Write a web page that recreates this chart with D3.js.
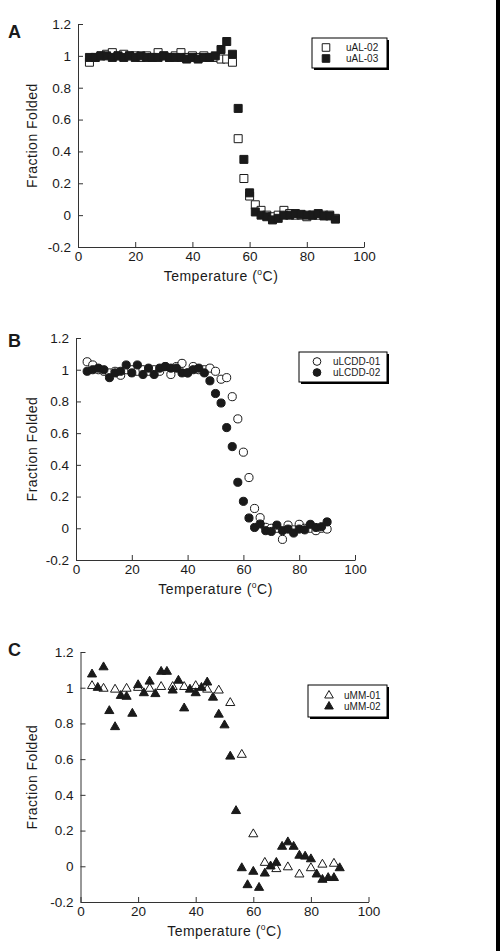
<!DOCTYPE html>
<html><head><meta charset="utf-8">
<script src="https://cdn.jsdelivr.net/npm/d3@7"></script>
<style>html,body{margin:0;padding:0;background:#fff;}svg{display:block;}</style>
</head><body>
<svg id="chart" width="502" height="951"></svg>
<script>
// ---------- DATA ----------
const xTicks = [0, 20, 40, 60, 80, 100];
const yTicks = [-0.2, 0, 0.2, 0.4, 0.6, 0.8, 1, 1.2];
const yTickLabels = ["-0.2", "0", "0.2", "0.4", "0.6", "0.8", "1", "1.2"];

const tempsA = [4,6,8,10,12,14,16,18,20,22,24,26,28,30,32,34,36,38,40,42,44,46,48,50,52,54,56,58,60,62,64,66,68,70,72,74,76,78,80,82,84,86,88,90];
const uAL02 = [0.96,0.99,1.0,1.01,1.02,1.0,1.01,1.0,1.0,0.99,1.0,0.99,1.02,1.0,0.99,1.0,1.02,0.99,1.0,0.99,1.0,0.99,0.99,0.98,0.98,0.96,0.48,0.23,0.12,0.065,0.03,0.0,-0.01,0.0,0.03,0.01,0.0,0.0,-0.01,0.0,0.0,0.0,0.0,-0.02];
const uAL03 = [0.99,0.99,1.0,1.0,0.99,1.0,0.99,1.0,0.99,1.0,0.99,0.99,0.99,1.0,0.99,0.99,0.99,0.98,0.99,0.98,0.99,0.99,1.0,1.04,1.09,1.01,0.67,0.35,0.14,0.02,0.0,-0.01,-0.03,-0.02,0.0,0.0,0.01,0.005,0.0,0.0,0.01,-0.005,-0.005,-0.025];

const tempsB = [4,6,8,10,12,14,16,18,20,22,24,26,28,30,32,34,36,38,40,42,44,46,48,50,52,54,56,58,60,62,64,66,68,70,72,74,76,78,80,82,84,86,88,90];
const uLCDD01 = [1.05,1.03,1.0,0.99,0.98,0.99,0.965,1.0,1.0,0.99,1.0,0.99,1.0,0.99,1.02,0.97,1.02,1.04,0.98,1.02,1.0,1.0,1.01,0.99,0.94,0.95,0.83,0.69,0.48,0.32,0.125,0.067,0.006,0.0,0.0,-0.07,0.02,-0.01,0.025,0.0,0.0,-0.015,0.0,-0.005];
const uLCDD02 = [0.99,1.0,1.01,1.0,0.95,0.98,0.99,1.03,0.98,1.03,0.97,1.01,0.97,1.01,1.02,1.01,1.01,0.98,0.98,1.0,1.01,0.98,0.93,0.85,0.79,0.635,0.515,0.29,0.17,0.065,0.005,0.027,-0.015,-0.02,0.02,-0.015,-0.005,-0.03,-0.005,-0.01,0.025,0.005,0.01,0.04];

const tempsC01 = [4,8,12,16,20,24,28,32,36,40,44,48,52,56,60,64,68,72,76,80,84,88];
const uMM01 = [1.01,0.995,0.99,0.995,1.0,0.995,1.005,1.005,1.005,1.01,0.99,0.985,0.915,0.625,0.18,0.02,-0.015,-0.005,-0.045,-0.01,0.01,0.015];
const tempsC02 = [4,6,8,10,12,14,16,18,20,22,24,26,28,30,32,34,36,38,40,42,44,46,48,50,52,54,56,58,60,62,64,66,68,70,72,74,76,78,80,82,84,86,88,90];
const uMM02 = [1.075,1.0,1.115,0.87,0.78,0.955,0.95,0.855,1.015,0.97,1.035,0.965,1.09,1.09,0.985,1.04,0.885,0.99,0.97,1.0,1.03,0.945,0.85,0.79,0.615,0.31,-0.01,-0.105,-0.03,-0.12,-0.04,0.0,0.02,0.11,0.135,0.11,0.06,0.055,0.04,-0.045,-0.075,-0.065,-0.065,-0.01];

// ---------- DRAWING ----------
const svg = d3.select("#chart");
const FONT = "'Liberation Sans', Arial, sans-serif";
const INK = "#1a1a1a";

// right-edge black bar
svg.append("rect").attr("x", 496).attr("y", 0).attr("width", 4).attr("height", 951).attr("fill", "#000");

const panels = [
  { letter: "A", ly: 38, x0: 78, x1: 364, yT: 24, yB: 247, shape: "square",
    series: [{name: "uAL-02", t: tempsA, v: uAL02, open: true}, {name: "uAL-03", t: tempsA, v: uAL03, open: false}],
    leg: {x: 312, y: 38, w: 75, h: 30, mx: 326, tx: 346} },
  { letter: "B", ly: 347, x0: 76, x1: 355, yT: 338, yB: 560, shape: "circle",
    series: [{name: "uLCDD-01", t: tempsB, v: uLCDD01, open: true}, {name: "uLCDD-02", t: tempsB, v: uLCDD02, open: false}],
    leg: {x: 299, y: 352, w: 88, h: 30, mx: 317, tx: 333} },
  { letter: "C", ly: 656, x0: 80.5, x1: 368.5, yT: 652, yB: 902, shape: "triangle",
    series: [{name: "uMM-01", t: tempsC01, v: uMM01, open: true}, {name: "uMM-02", t: tempsC02, v: uMM02, open: false}],
    leg: {x: 308, y: 685, w: 79, h: 32, mx: 329, tx: 344} }
];

function symbolPath(shape, size) {
  const type = shape === "square" ? d3.symbolSquare : shape === "circle" ? d3.symbolCircle : d3.symbolTriangle;
  return d3.symbol().type(type).size(size)();
}
const symSize = {square: 64, circle: 52, triangle: 36};

panels.forEach(p => {
  const g = svg.append("g");
  const x = d3.scaleLinear().domain([0, 100]).range([p.x0, p.x1]);
  const y = d3.scaleLinear().domain([-0.2, 1.2]).range([p.yB, p.yT]);

  // panel letter
  g.append("text").attr("x", 8).attr("y", p.ly).text(p.letter)
    .attr("font-family", FONT).attr("font-weight", "bold").attr("font-size", 18).attr("fill", INK);

  // axes
  const xAxis = d3.axisBottom(x).tickValues(xTicks).tickSizeInner(-5).tickSizeOuter(0).tickPadding(4).tickFormat(d3.format("d"));
  const yAxis = d3.axisLeft(y).tickValues(yTicks).tickSizeInner(-5).tickSizeOuter(0).tickPadding(7)
    .tickFormat(d => yTickLabels[yTicks.indexOf(d)]);

  const gx = g.append("g").attr("transform", `translate(0,${p.yB})`).call(xAxis);
  const gy = g.append("g").attr("transform", `translate(${p.x0},0)`).call(yAxis);
  [gx, gy].forEach(a => {
    a.selectAll("path,line").attr("stroke", "#333").attr("stroke-width", 1);
    a.selectAll("text").attr("font-family", FONT).attr("font-size", 13.5).attr("fill", INK);
  });

  // axis titles
  const xt = g.append("text").attr("x", (p.x0 + p.x1) / 2).attr("y", p.yB + 34)
    .attr("text-anchor", "middle").attr("font-family", FONT).attr("font-size", 14)
    .attr("letter-spacing", 0.5).attr("fill", INK);
  xt.append("tspan").text("Temperature (");
  xt.append("tspan").text("o").attr("font-size", 8.5).attr("dy", -6);
  xt.append("tspan").text("C)").attr("dy", 6);

  g.append("text").attr("transform", `translate(37,${(p.yT + p.yB) / 2}) rotate(-90)`)
    .attr("text-anchor", "middle").attr("font-family", FONT).attr("font-size", 14)
    .attr("letter-spacing", 0.5).attr("fill", INK)
    .text("Fraction Folded");

  // points
  const sz = symSize[p.shape];
  p.series.forEach(s => {
    const pts = s.t.map((t, i) => ({t, v: s.v[i]}));
    g.append("g").selectAll("path").data(pts).join("path")
      .attr("d", symbolPath(p.shape, sz))
      .attr("transform", d => `translate(${x(d.t)},${y(d.v)})`)
      .attr("fill", s.open ? "#fff" : INK)
      .attr("stroke", INK).attr("stroke-width", 1);
  });

  // legend
  const L = p.leg;
  g.append("rect").attr("x", L.x + 2).attr("y", L.y + 2).attr("width", L.w).attr("height", L.h).attr("fill", "#000");
  g.append("rect").attr("x", L.x).attr("y", L.y).attr("width", L.w).attr("height", L.h)
    .attr("fill", "#fff").attr("stroke", "#000").attr("stroke-width", 1);
  p.series.forEach((s, i) => {
    const cy = L.y + L.h / 2 + (i === 0 ? -5.5 : 5.5);
    g.append("path").attr("d", symbolPath(p.shape, sz * 0.9))
      .attr("transform", `translate(${L.mx},${cy})`)
      .attr("fill", s.open ? "#fff" : INK).attr("stroke", INK).attr("stroke-width", 1);
    g.append("text").attr("x", L.tx).attr("y", cy).attr("dy", "0.35em").text(s.name)
      .attr("font-family", FONT).attr("font-size", 10).attr("fill", INK);
  });
});
</script>
</body></html>
